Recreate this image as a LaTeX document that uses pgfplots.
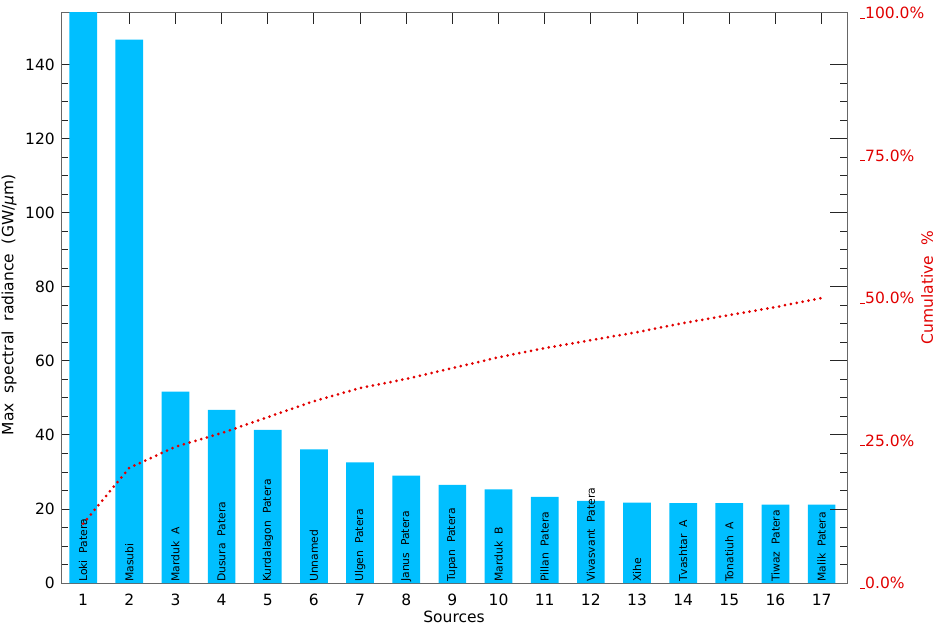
\documentclass[border=0pt]{standalone}
\usepackage{fontspec}
\setmainfont{DejaVu Sans}
\usepackage{pgfplots}
\pgfplotsset{compat=1.18}
\usetikzlibrary{calc}
\definecolor{barblue}{RGB}{0,191,255}
\definecolor{cumred}{RGB}{225,0,0}
\newcommand{\lblfont}{\fontsize{15.5}{18}\selectfont}
\newcommand{\barfont}{\fontsize{10.8}{12}\selectfont}

\begin{document}
\begin{tikzpicture}
\begin{axis}[
    scale only axis,
    width=786pt, height=570pt,
    xmin=0.52, xmax=17.55,
    ymin=0, ymax=154,
    xtick={1,...,17},
    ytick={0,20,...,140},
    minor y tick num=3,
    tick align=inside,
    xtick pos=both, xticklabel pos=lower,
    ytick pos=both, yticklabel pos=left,
    major tick length=11pt, minor tick length=7pt,
    axis line style={black!60, line width=1pt},
    tick style={black!85, line width=0.9pt},
    /pgf/number format/assume math mode=true,
    tick label style={font=\lblfont},
    xticklabel style={inner sep=0pt, yshift=-11pt},
    yticklabel style={inner sep=0pt, xshift=-6pt},
    xlabel={Sources},
    ylabel={Max\ \ spectral\ \ radiance\ \ (GW/\textit{μ}m)},
    label style={font=\lblfont},
    xlabel style={at={(axis description cs:0.5,-0.06)}, anchor=center},
    ylabel style={at={(axis description cs:-0.066,0.488)}, anchor=center, rotate=0},
]
\addplot[ybar, bar width=0.6, fill=barblue, draw=none] coordinates {
    (1,160) (2,146.8) (3,51.7) (4,46.8) (5,41.4) (6,36.1) (7,32.6) (8,29.0)
    (9,26.5) (10,25.3) (11,23.3) (12,22.2) (13,21.7) (14,21.6) (15,21.6)
    (16,21.2) (17,21.2)
};
\coordinate (bl) at (rel axis cs:0,0);
\coordinate (tr) at (rel axis cs:1,1);
\begin{scope}[every node/.style={rotate=90, anchor=west, font=\barfont, inner sep=1pt}]
\node at (axis cs:1,0) {Loki\ \ Patera};
\node at (axis cs:2,0) {Masubi};
\node at (axis cs:3,0) {Marduk\ \ A};
\node at (axis cs:4,0) {Dusura\ \ Patera};
\node at (axis cs:5,0) {Kurdalagon\ \ Patera};
\node at (axis cs:6,0) {Unnamed};
\node at (axis cs:7,0) {Ulgen\ \ Patera};
\node at (axis cs:8,0) {Janus\ \ Patera};
\node at (axis cs:9,0) {Tupan\ \ Patera};
\node at (axis cs:10,0) {Marduk\ \ B};
\node at (axis cs:11,0) {Pillan\ \ Patera};
\node at (axis cs:12,0) {Vivasvant\ \ Patera};
\node at (axis cs:13,0) {Xihe};
\node at (axis cs:14,0) {Tvashtar\ \ A};
\node at (axis cs:15,0) {Tonatiuh\ \ A};
\node at (axis cs:16,0) {Tiwaz\ \ Patera};
\node at (axis cs:17,0) {Malik\ \ Patera};
\end{scope}
\end{axis}

\begin{axis}[
    scale only axis,
    width=786pt, height=570pt,
    xmin=0.52, xmax=17.55,
    ymin=0, ymax=100,
    axis x line=none,
    axis y line*=right,
    y axis line style={draw=none},
    ytick={0,25,50,75,100},
    major tick length=0pt,
    tick align=inside,
    % longer major ticks on the right-hand side, at the left axis' 20-unit steps
    extra y ticks={12.987,25.974,38.961,51.948,64.935,77.922,90.909},
    extra y tick style={major tick length=17pt, tick style={black!85, line width=0.9pt}, yticklabel={}},
    /pgf/number format/assume math mode=true,
    yticklabel style={font=\lblfont, text=cumred, anchor=west, inner sep=0pt, xshift=13pt},
    yticklabel={\rule{5pt}{1.1pt}\pgfmathprintnumber[fixed, fixed zerofill, precision=1]{\tick}\%},
    ylabel={Cumulative\ \ \%},
    ylabel style={font=\lblfont, text=cumred, at={(axis description cs:1.102,0.518)}, anchor=center, rotate=0},
]
\addplot[cumred, line width=3pt, line cap=round, dash pattern=on 0pt off 6pt] coordinates {
    (1,10.4) (2,20.2) (3,23.9) (4,26.3) (5,29.1) (6,31.9) (7,34.2) (8,35.8)
    (9,37.7) (10,39.6) (11,41.2) (12,42.6) (13,44.0) (14,45.6) (15,47.0)
    (16,48.4) (17,50.0)
};
\end{axis}
\pgfresetboundingbox
\path ($(bl)+(-61pt,-43pt)$) rectangle ($(tr)+(94pt,13pt)$);
\end{tikzpicture}
\end{document}
